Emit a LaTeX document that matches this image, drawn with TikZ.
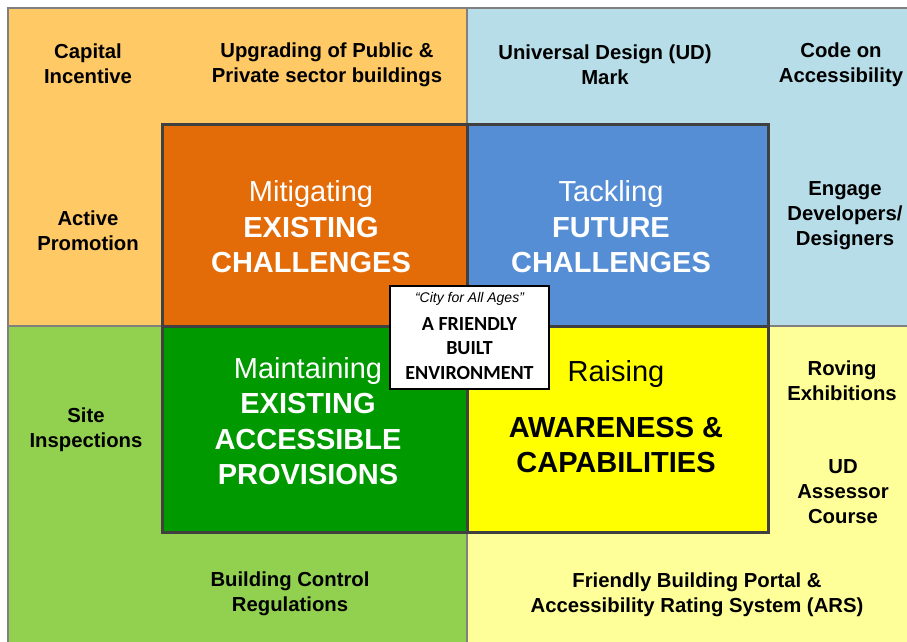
\documentclass[tikz,border=0pt]{standalone}
\usepackage{fontspec}
\setmainfont{Liberation Sans}
\newfontfamily\calib{Carlito}
\definecolor{otl}{HTML}{FFC966}
\definecolor{otr}{HTML}{B7DDE8}
\definecolor{obl}{HTML}{92D050}
\definecolor{obr}{HTML}{FFFF99}
\definecolor{itl}{HTML}{E36C09}
\definecolor{itr}{HTML}{558ED5}
\definecolor{ibl}{HTML}{009900}
\definecolor{ibr}{HTML}{FFFF00}
\definecolor{obord}{HTML}{808080}
\definecolor{ibord}{HTML}{404040}
\tikzset{
  outerq/.style={draw=obord, line width=2pt},
  innerq/.style={draw=ibord, line width=3pt},
  otext/.style={align=center, font=\bfseries\fontsize{20.3}{25}\selectfont, inner sep=0pt},
  itext/.style={align=center, font=\fontsize{29}{35.5}\selectfont, inner sep=0pt},
}
\begin{document}
\begin{tikzpicture}[x=1pt, y=-1pt]
\useasboundingbox (0,0) rectangle (907,641);
\fill[white] (0,0) rectangle (907,641);
% outer quadrants
\filldraw[outerq, fill=otl] (8,8) rectangle (467,326);
\filldraw[outerq, fill=otr] (467,8) rectangle (912,326);
\filldraw[outerq, fill=obl] (8,326) rectangle (467,646);
\filldraw[outerq, fill=obr] (467,326) rectangle (912,646);
% inner quadrants
\filldraw[innerq, fill=itl] (162,124) rectangle (467,326);
\filldraw[innerq, fill=itr] (467,124) rectangle (768,326);
\filldraw[innerq, fill=ibl] (162,326) rectangle (467,532);
\filldraw[innerq, fill=ibr] (467,326) rectangle (768,532);
% outer texts
\node[otext] (capital) at (88,64) {Capital\\Incentive};
\node[otext] (upgrade) at (327,65) {Upgrading of Public \&\\Private sector buildings};
\node[otext] (udmark) at (605,65) {Universal Design (UD)\\Mark};
\node[otext] (code) at (841,65) {Code on\\Accessibility};
\node[otext] (active) at (88,231) {Active\\Promotion};
\node[otext] (engage) at (845,216) {Engage\\Developers/\\Designers};
\node[otext] (site) at (86,430) {Site\\Inspections};
\node[otext] (roving) at (842,381) {Roving\\Exhibitions};
\node[otext] (assessor) at (843,492) {UD\\Assessor\\Course};
\node[otext] (bcr) at (290,594) {Building Control\\Regulations};
\node[otext] (portal) at (697,595) {Friendly Building Portal \&\\Accessibility Rating System (ARS)};
% inner texts
\node[itext, text=white] (mitig) at (311,227) {Mitigating\\\textbf{EXISTING}\\\textbf{CHALLENGES}};
\node[itext, text=white] (tackl) at (611,227) {Tackling\\\textbf{FUTURE}\\\textbf{CHALLENGES}};
\node[itext, text=white] (maint) at (308,421) {Maintaining\\\textbf{EXISTING}\\\textbf{ACCESSIBLE}\\\textbf{PROVISIONS}};
\node[itext, text=black] (raising) at (616,374) {Raising};
\node[itext, text=black, font=\bfseries\fontsize{29}{34.5}\selectfont] (aware) at (616,445) {AWARENESS \&\\CAPABILITIES};
% centre label
\node[draw=black, line width=1.8pt, fill=white, minimum width=159pt, minimum height=103pt, inner sep=0pt] (centre) at (469.5,337.5) {};
\node[align=center, inner sep=0pt, font=\calib\fontsize{20}{24.5}\selectfont] (centretext) at (469.5,336) {{\rmfamily\itshape\fontsize{14}{16}\selectfont \textquotedblleft City for All Ages\textquotedblright}\\[3pt]\textbf{A FRIENDLY}\\\textbf{BUILT}\\\textbf{ENVIRONMENT}};
\end{tikzpicture}
\end{document}
